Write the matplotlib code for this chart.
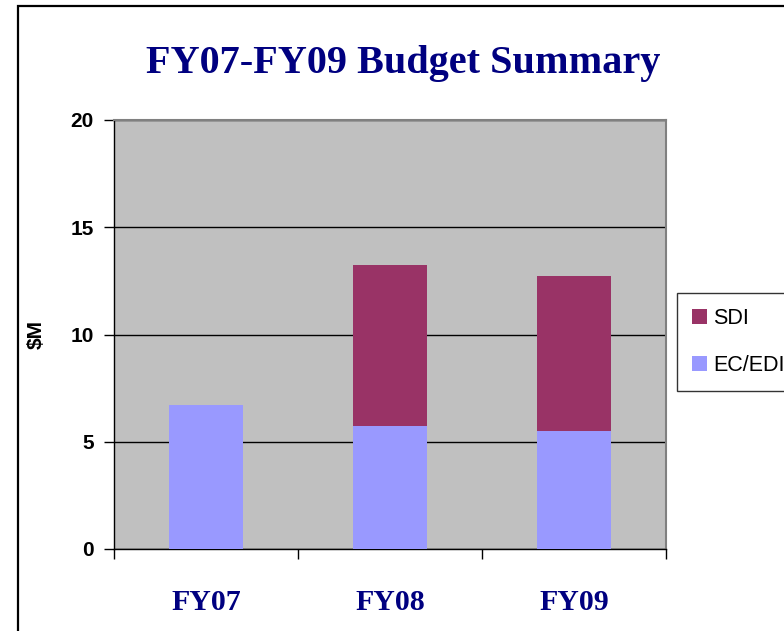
import matplotlib
matplotlib.use("Agg")
import matplotlib.pyplot as plt
from matplotlib.patches import Rectangle
import numpy as np

# ── Data ────────────────────────────────────────────
years = ["FY07", "FY08", "FY09"]
ec_edi = [6.7, 5.75, 5.5]
sdi = [0.0, 7.5, 7.25]

NAVY = "#000080"
EC_COLOR = "#9999FF"
SDI_COLOR = "#993366"

fig = plt.figure(figsize=(7.84, 6.31), dpi=100)

# chart frame (right/bottom edges run off the picture)
fig.patches.append(Rectangle((18 / 784, -0.05), 1.2, (631 - 6) / 631 + 0.05,
                             transform=fig.transFigure, fill=False,
                             edgecolor="black", linewidth=1.6))

ax = fig.add_axes([114 / 784, (631 - 549) / 631, (666 - 114) / 784, (549 - 120) / 631])
ax.set_facecolor("#C0C0C0")

x = np.arange(len(years))
ax.bar(x, ec_edi, width=0.40, color=EC_COLOR, label="EC/EDI", zorder=3)
ax.bar(x, sdi, width=0.40, bottom=ec_edi, color=SDI_COLOR, label="SDI", zorder=3)

ax.set_xlim(-0.5, 2.5)
ax.set_ylim(0, 20)
ax.set_yticks([0, 5, 10, 15, 20])
ax.yaxis.grid(True, color="black", linewidth=1.0, zorder=1)
ax.set_axisbelow(True)

ax.set_xticks(x)
ax.set_xticklabels(years, fontfamily="Liberation Serif", fontweight="bold",
                   fontsize=21.5, color=NAVY)
ax.tick_params(axis="x", which="major", length=0, pad=29)
ax.set_xticks([-0.5, 0.5, 1.5, 2.5], minor=True)
ax.tick_params(axis="x", which="minor", length=7.5, width=1, color="black", direction="out")

ax.tick_params(axis="y", length=7.5, width=1, pad=7, direction="out")
for lbl in ax.get_yticklabels():
    lbl.set_fontfamily("Liberation Sans")
    lbl.set_fontweight("bold")
    lbl.set_fontsize(15)

ax.set_ylabel("$M", fontfamily="Liberation Sans", fontweight="bold",
              fontsize=15, labelpad=18)

for side in ("top", "right"):
    ax.spines[side].set_color("#808080")
    ax.spines[side].set_linewidth(1.5)
for side in ("left", "bottom"):
    ax.spines[side].set_color("black")
    ax.spines[side].set_linewidth(1.0)

fig.text(403 / 784, 1 - 63 / 631, "FY07-FY09 Budget Summary", ha="center", va="center",
         fontfamily="Liberation Serif", fontweight="bold", fontsize=29, color=NAVY)

handles, labels = ax.get_legend_handles_labels()
leg = fig.legend(handles[::-1], labels[::-1], loc="upper left",
                 bbox_to_anchor=(677 / 784, 1 - 293 / 631),
                 prop={"family": "Liberation Sans", "size": 15.5},
                 frameon=True, fancybox=False, edgecolor="black",
                 handlelength=0.7, handleheight=0.7, handletextpad=0.28,
                 labelspacing=1.2, borderpad=0.7, borderaxespad=0)
leg.get_frame().set_linewidth(1.0)

fig.savefig("out.png", dpi=100)
